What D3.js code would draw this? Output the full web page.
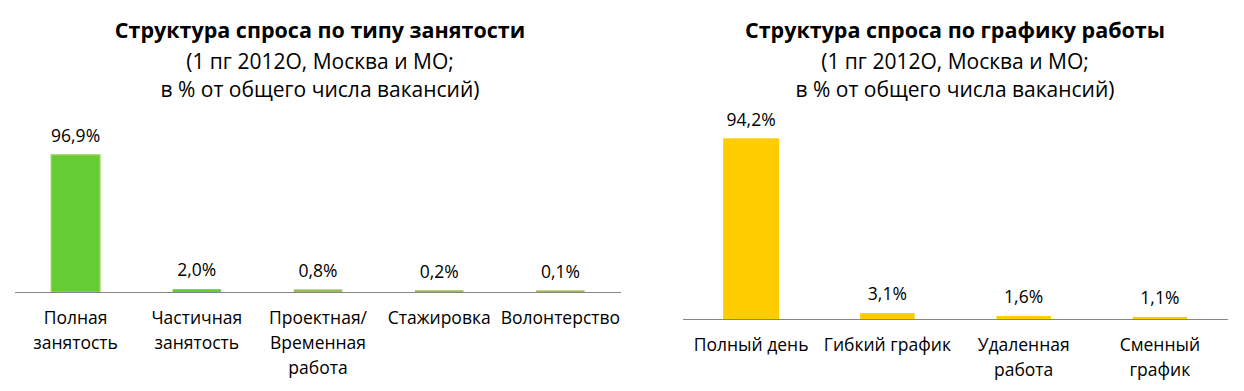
<!DOCTYPE html>
<html lang="ru">
<head>
  <meta charset="UTF-8">
  <title>Структура спроса</title>
  <script src="https://d3js.org/d3.v7.min.js"></script>
  <style>
    body, html {
      margin: 0;
      padding: 0;
      background: #fff;
    }
    svg {
      display: block;
      font-family: "Open Sans", sans-serif;
    }
    .title {
      font-size: 21.5px;
      font-weight: bold;
      fill: #000;
      text-anchor: middle;
    }
    .subtitle {
      font-size: 21px;
      fill: #000;
      text-anchor: middle;
    }
    .value {
      font-size: 17.5px;
      fill: #000;
      text-anchor: middle;
    }
    .cat {
      font-size: 17.5px;
      fill: #000;
      text-anchor: middle;
    }
  </style>
</head>
<body>
  <svg width="1244" height="391"></svg>

  <script>
    // Chart 1: structure by employment type
    const categories1 = [["Полная", "занятость"], ["Частичная", "занятость"], ["Проектная/", "Временная", "работа"], ["Стажировка"], ["Волонтерство"]];
    const values1 = [96.9, 2.0, 0.8, 0.2, 0.1];

    // Chart 2: structure by work schedule
    const categories2 = [["Полный день"], ["Гибкий график"], ["Удаленная", "работа"], ["Сменный", "график"]];
    const values2 = [94.2, 3.1, 1.6, 1.1];

    const titles = ["Структура спроса по типу занятости", "Структура спроса по графику работы"];
    const subtitles = ["(1 пг 2012О, Москва и МО;", "в % от общего числа вакансий)"];

    const svg = d3.select("svg");
    const fmt = v => v.toFixed(1).replace(".", ",") + "%";

    function drawChart(opts) {
      const g = svg.append("g");

      g.append("text").attr("class", "title")
        .attr("x", opts.titleX).attr("y", 38)
        .text(opts.title);
      subtitles.forEach((s, i) => {
        g.append("text").attr("class", "subtitle")
          .attr("x", opts.titleX).attr("y", 69 + i * 28)
          .text(s);
      });

      const x = d3.scaleBand()
        .domain(opts.cats.map((d, i) => i))
        .range([opts.x0, opts.x1])
        .paddingInner(0.6)
        .paddingOuter(0.3);

      const y = d3.scaleLinear()
        .domain([0, 100])
        .range([opts.base, opts.base - opts.h100]);

      g.selectAll(".bar")
        .data(opts.vals)
        .join("rect")
        .attr("class", "bar")
        .attr("x", (d, i) => x(i))
        .attr("width", x.bandwidth())
        .attr("y", d => y(d) - (d < 1 ? 1.5 : 0))
        .attr("height", d => opts.base - y(d) + (d < 1 ? 1.5 : 0))
        .attr("fill", (d) => d < 1 ? opts.smallColor : opts.color)
        .attr("stroke", opts.stroke)
        .attr("stroke-width", d => d > 50 ? 1.5 : 0);

      g.selectAll(".value")
        .data(opts.vals)
        .join("text")
        .attr("class", "value")
        .attr("x", (d, i) => x(i) + x.bandwidth() / 2)
        .attr("y", d => y(d) - (d < 1 ? 14 : 13))
        .text(fmt);

      g.append("line")
        .attr("x1", opts.x0).attr("x2", opts.x1)
        .attr("y1", opts.base + 0.5).attr("y2", opts.base + 0.5)
        .attr("stroke", "#868686")
        .attr("stroke-width", 1.2);

      opts.cats.forEach((lines, i) => {
        const t = g.append("text").attr("class", "cat")
          .attr("x", x(i) + x.bandwidth() / 2)
          .attr("y", opts.base + 32);
        lines.forEach((l, j) => {
          t.append("tspan")
            .attr("x", x(i) + x.bandwidth() / 2)
            .attr("dy", j === 0 ? 0 : 25)
            .text(l);
        });
      });
    }

    drawChart({
      title: titles[0], titleX: 320,
      cats: categories1, vals: values1,
      x0: 15, x1: 621, base: 292, h100: 141.4,
      color: "#66CC33", stroke: "#92D050", smallColor: "#9BBB59"
    });

    drawChart({
      title: titles[1], titleX: 955,
      cats: categories2, vals: values2,
      x0: 683, x1: 1228, base: 319, h100: 191,
      color: "#FFCC00", stroke: "#FFCC00", smallColor: "#D9C04A"
    });
  </script>
</body>
</html>
